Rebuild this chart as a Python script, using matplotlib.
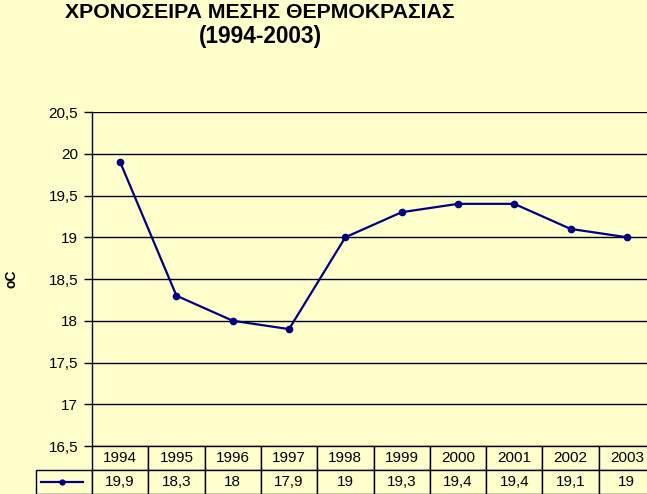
import matplotlib
matplotlib.use('Agg')
import matplotlib.pyplot as plt
from matplotlib.ticker import FuncFormatter, MultipleLocator
from matplotlib.table import Table

years = ['1994', '1995', '1996', '1997', '1998', '1999', '2000', '2001', '2002', '2003']
temps = [19.9, 18.3, 18.0, 17.9, 19.0, 19.3, 19.4, 19.4, 19.1, 19.0]

title1 = 'ΧΡΟΝΟΣΕΙΡΑ ΜΕΣΗΣ ΘΕΡΜΟΚΡΑΣΙΑΣ'
title2 = '(1994-2003)'
ylabel = 'oC'

bg = '#FFFFCC'
navy = '#000080'

plt.rcParams['font.family'] = ['Liberation Sans', 'DejaVu Sans']


def comma(v):
    return f'{v:g}'.replace('.', ',')


W, H = 647, 494
fig = plt.figure(figsize=(W / 100, H / 100), dpi=100, facecolor=bg)
# plot area runs a little past the right edge, like the cropped original
ax = fig.add_axes([92 / W, 1 - 446 / H, 563 / W, 334 / H], facecolor=bg)

x = list(range(len(years)))
ax.plot(x, temps, color=navy, lw=1.6, marker='o', ms=4.5, zorder=3, clip_on=False)

ax.set_xlim(-0.5, len(years) - 0.5)
ax.set_ylim(16.5, 20.5)
ax.yaxis.set_major_locator(MultipleLocator(0.5))
ax.yaxis.set_major_formatter(FuncFormatter(lambda v, p: comma(v)))
ax.grid(axis='y', color='black', lw=1)
ax.set_xticks([])
for s in ['top', 'right', 'bottom']:
    ax.spines[s].set_visible(False)
ax.spines['left'].set_linewidth(1)
ax.tick_params(axis='y', direction='out', length=6, width=1, labelsize=11, pad=4)
ax.set_ylabel(ylabel, fontsize=10, fontweight='bold')
ax.yaxis.set_label_coords((19 - 92) / 563, 0.5)

# data table under the plot: year row, then value row with the legend key cell
# (the table bbox only covers the data cells; the key cell sits left of it)
row_h = 24 / 334
lab_w = 56 / 563
tab = Table(ax, bbox=[0, -2 * row_h, 1, 2 * row_h])
for c, yr in enumerate(years):
    tab.add_cell(0, c, 0.1, row_h, text=yr, loc='center', facecolor=bg, edgecolor='black')
    tab.add_cell(1, c, 0.1, row_h, text=comma(temps[c]), loc='center', facecolor=bg, edgecolor='black')
tab.add_cell(1, -1, lab_w, row_h, text='', facecolor=bg, edgecolor='black')
tab.auto_set_font_size(False)
tab.set_fontsize(11)
for cell in tab.get_celld().values():
    cell.set_linewidth(1)
ax.add_table(tab)

# legend key inside the row label cell
ky = -1.5 * row_h
ax.plot([-51 / 563, -9 / 563], [ky, ky], color=navy, lw=1.6, transform=ax.transAxes, clip_on=False)
ax.plot([-30 / 563], [ky], color=navy, marker='o', ms=3.5, transform=ax.transAxes, clip_on=False)

fig.text(260 / W, 1 - 12 / H, title1, ha='center', va='center', fontsize=15.3, fontweight='bold')
fig.text(260 / W, 1 - 37 / H, title2, ha='center', va='center', fontsize=16.3, fontweight='bold')

fig.savefig('out.png', dpi=100, facecolor=bg)
